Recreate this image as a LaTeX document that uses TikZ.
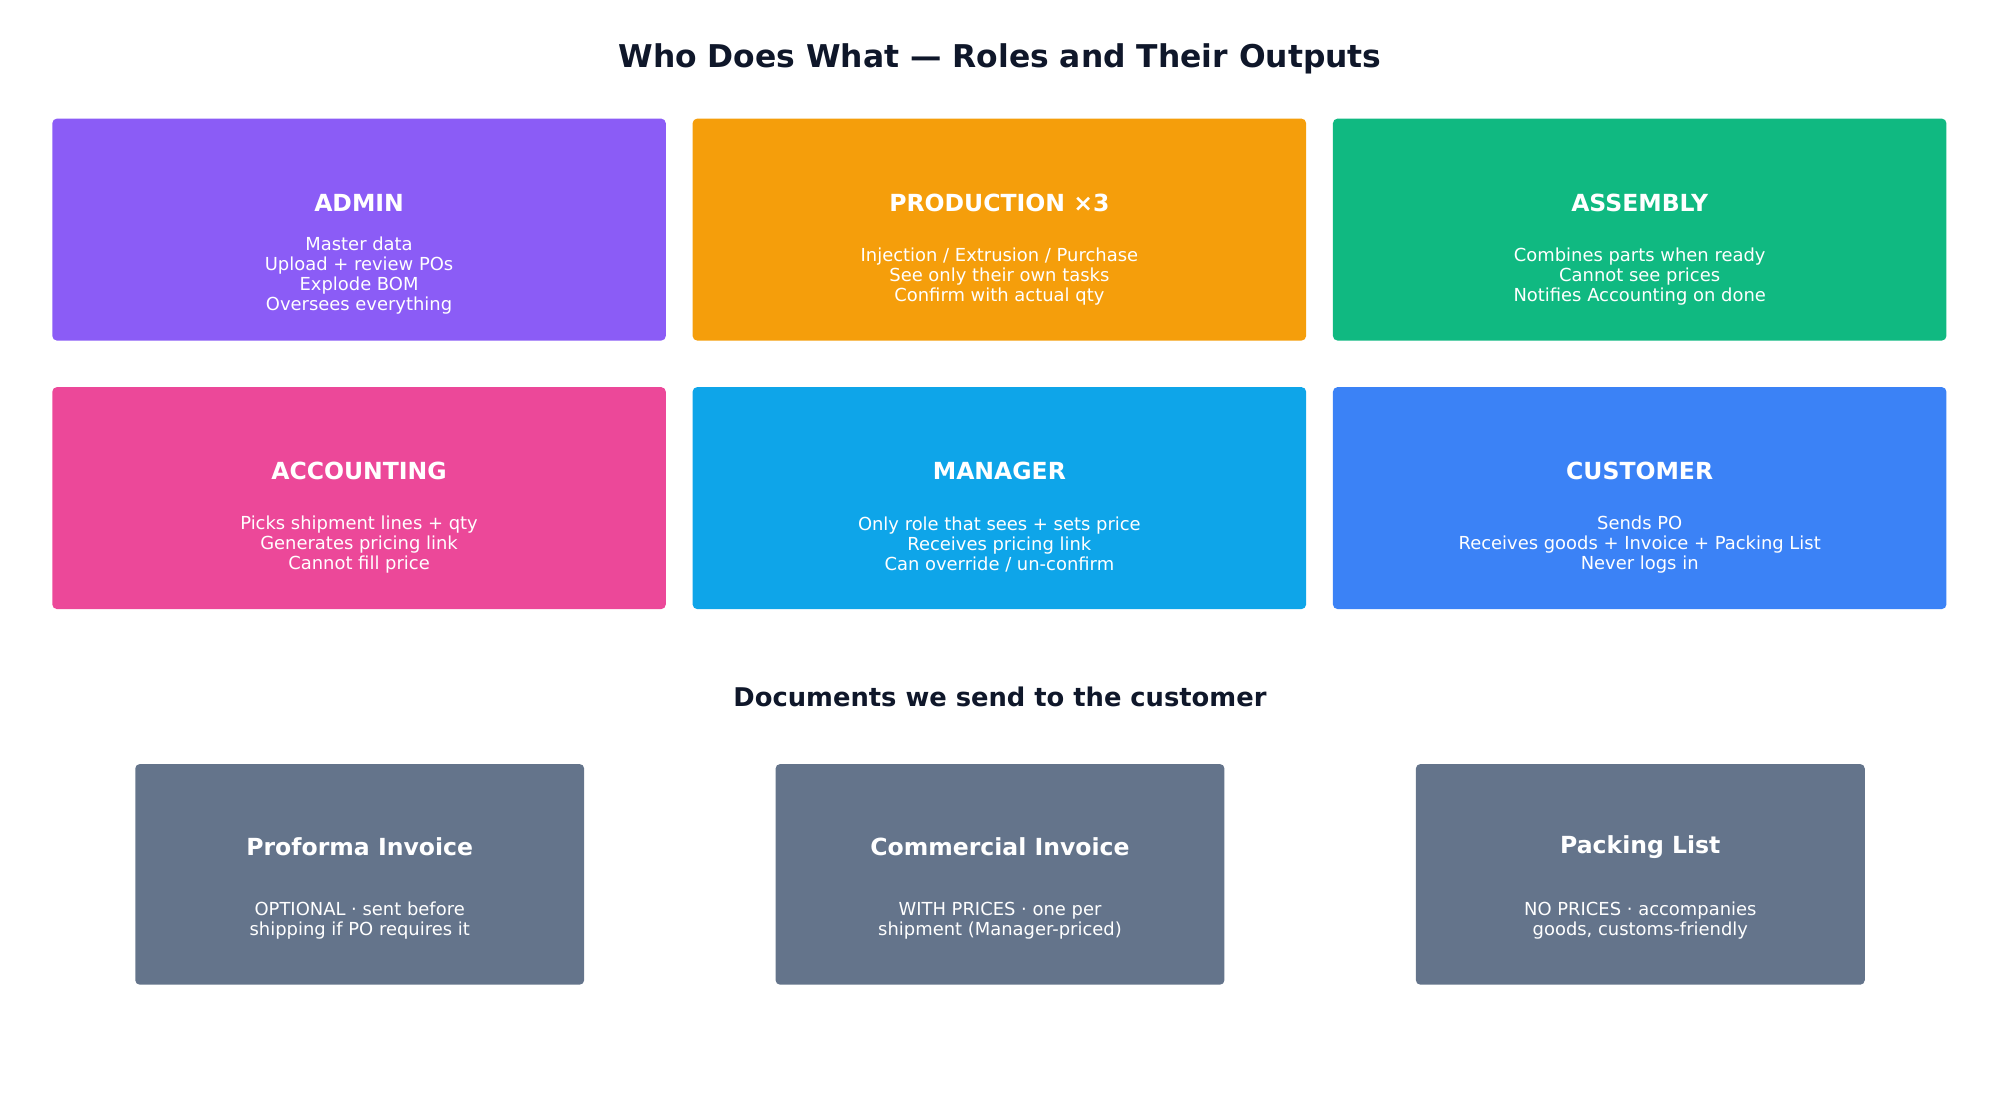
\documentclass[tikz,border=0pt]{standalone}
\usepackage{fontspec}
\setmainfont{DejaVu Sans}
\definecolor{adminc}{HTML}{8B5CF6}
\definecolor{prodc}{HTML}{F59E0B}
\definecolor{assyc}{HTML}{10B981}
\definecolor{accc}{HTML}{EC4899}
\definecolor{mgrc}{HTML}{0EA5E9}
\definecolor{custc}{HTML}{3B82F6}
\definecolor{docc}{HTML}{64748B}
\definecolor{inkc}{HTML}{0F172A}
\tikzset{
  role/.style={draw=none, fill=#1, rounded corners=2pt, minimum width=9.62cm, minimum height=3.48cm},
  doc/.style={draw=none, fill=docc, rounded corners=2pt, minimum width=7.04cm, minimum height=3.46cm},
  head/.style={text=white, font=\bfseries\fontsize{10.5}{12}\selectfont},
  body/.style={text=white, align=center, font=\fontsize{8}{9}\selectfont},
}
\begin{document}
\begin{tikzpicture}[x=0.02cm, y=-0.02cm]
  \useasboundingbox (0,0) rectangle (1568,866);

  \node[text=inkc, font=\bfseries\fontsize{14}{16}\selectfont] (title) at (784,46) {Who Does What — Roles and Their Outputs};

  % roles, first row
  \node[role=adminc] (admin) at (281.5,180) {};
  \node[head] (adminh) at (281.5,159) {ADMIN};
  \node[body] (adminb) at (281.5,216) {Master data\\Upload + review POs\\Explode BOM\\Oversees everything};

  \node[role=prodc] (prod) at (783.5,180) {};
  \node[head] (prodh) at (783.5,159) {PRODUCTION ×3};
  \node[body] (prodb) at (783.5,217) {Injection / Extrusion / Purchase\\See only their own tasks\\Confirm with actual qty};

  \node[role=assyc] (assy) at (1285.5,180) {};
  \node[head] (assyh) at (1285.5,159) {ASSEMBLY};
  \node[body] (assyb) at (1285.5,217) {Combines parts when ready\\Cannot see prices\\Notifies Accounting on done};

  % roles, second row
  \node[role=accc] (acc) at (281.5,390.5) {};
  \node[head] (acch) at (281.5,369) {ACCOUNTING};
  \node[body] (accb) at (281.5,427) {Picks shipment lines + qty\\Generates pricing link\\Cannot fill price};

  \node[role=mgrc] (mgr) at (783.5,390.5) {};
  \node[head] (mgrh) at (783.5,369) {MANAGER};
  \node[body] (mgrb) at (783.5,427) {Only role that sees + sets price\\Receives pricing link\\Can override / un-confirm};

  \node[role=custc] (cust) at (1285.5,390.5) {};
  \node[head] (custh) at (1285.5,369) {CUSTOMER};
  \node[body] (custb) at (1285.5,427) {Sends PO\\Receives goods + Invoice + Packing List\\Never logs in};

  \node[text=inkc, font=\bfseries\fontsize{11.5}{13}\selectfont] (docs) at (784,546) {Documents we send to the customer};

  % documents
  \node[doc] (pro) at (282,685.5) {};
  \node[head] (proh) at (282,664) {Proforma Invoice};
  \node[body] (prob) at (282,722) {OPTIONAL · sent before\\shipping if PO requires it};

  \node[doc] (com) at (784,685.5) {};
  \node[head] (comh) at (784,664) {Commercial Invoice};
  \node[body] (comb) at (784,722) {WITH PRICES · one per\\shipment (Manager-priced)};

  \node[doc] (pack) at (1286,685.5) {};
  \node[head] (packh) at (1286,664) {Packing List};
  \node[body] (packb) at (1286,722) {NO PRICES · accompanies\\goods, customs-friendly};
\end{tikzpicture}
\end{document}
